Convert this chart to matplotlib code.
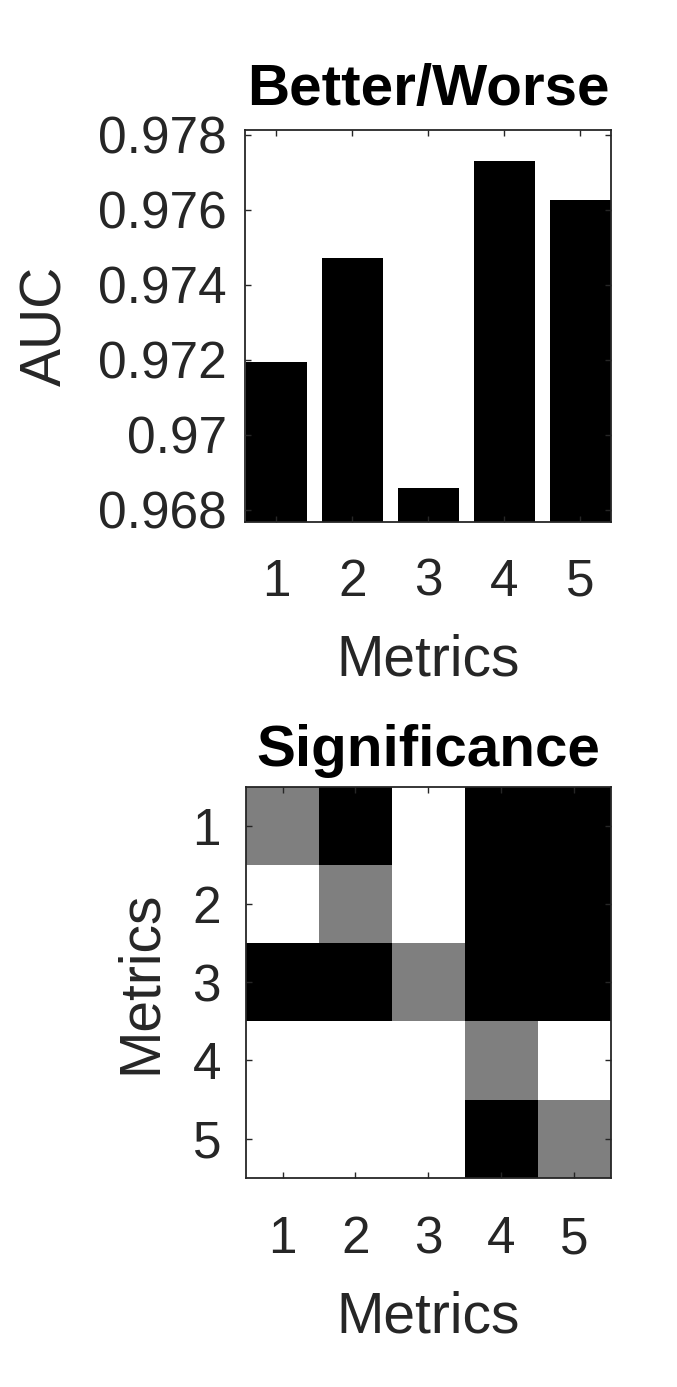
import numpy as np
import matplotlib.pyplot as plt

plt.rcParams['font.family'] = ['Liberation Sans', 'DejaVu Sans']

# ========== data ==========
metrics = [1, 2, 3, 4, 5]
auc = [0.97194, 0.97471, 0.96858, 0.97729, 0.97627]
auc_ticks = [0.968, 0.970, 0.972, 0.974, 0.976, 0.978]
auc_tick_labels = ['0.968', '0.97', '0.972', '0.974', '0.976', '0.978']

# 1 = significantly worse (black), 0 = not (white), 0.5 = diagonal
significance = np.array([
    [0.5, 1, 0, 1, 1],
    [0, 0.5, 0, 1, 1],
    [1, 1, 0.5, 1, 1],
    [0, 0, 0, 0.5, 0],
    [0, 0, 0, 1, 0.5],
])

# ========== figure ==========
fig = plt.figure(figsize=(6.77, 13.87), dpi=100)
ax1 = fig.add_axes([0.362, 0.624, 0.541, 0.2823])
ax2 = fig.add_axes([0.3634, 0.1509, 0.539, 0.2819])

axis_col = '#262626'
fs = 37

def style(ax):
    for s in ax.spines.values():
        s.set_color(axis_col)
        s.set_linewidth(1.3)
    ax.tick_params(direction='in', length=4, width=1.0, color=axis_col,
                   labelcolor=axis_col, labelsize=fs, top=True, right=True)

# bar chart
ax1.bar(metrics, auc, width=0.8, color='black')
ax1.set_xlim(0.59, 5.41)
ax1.set_ylim(0.96769, 0.97813)
ax1.set_yticks(auc_ticks)
ax1.set_yticklabels(auc_tick_labels)
ax1.set_xticks(metrics)
style(ax1)
ax1.tick_params(axis='x', pad=26)
ax1.tick_params(axis='y', pad=13)
ax1.set_xlabel('Metrics', fontsize=41, color=axis_col, labelpad=19)
ax1.set_ylabel('AUC', fontsize=41, color=axis_col, labelpad=18)
ax1.set_title('Better/Worse', fontsize=42, fontweight='bold', pad=18)

# significance matrix
ax2.imshow(significance, cmap='gray_r', vmin=0, vmax=1, aspect='auto',
           extent=(0.5, 5.5, 5.5, 0.5), interpolation='nearest')
ax2.set_xticks(metrics)
ax2.set_yticks(metrics)
style(ax2)
ax2.tick_params(axis='x', pad=27)
ax2.tick_params(axis='y', pad=18)
ax2.set_xlabel('Metrics', fontsize=41, color=axis_col, labelpad=19)
ax2.set_ylabel('Metrics', fontsize=41, color=axis_col, labelpad=18)
ax2.set_title('Significance', fontsize=42, fontweight='bold', pad=15)

fig.savefig('out.png', dpi=100)
